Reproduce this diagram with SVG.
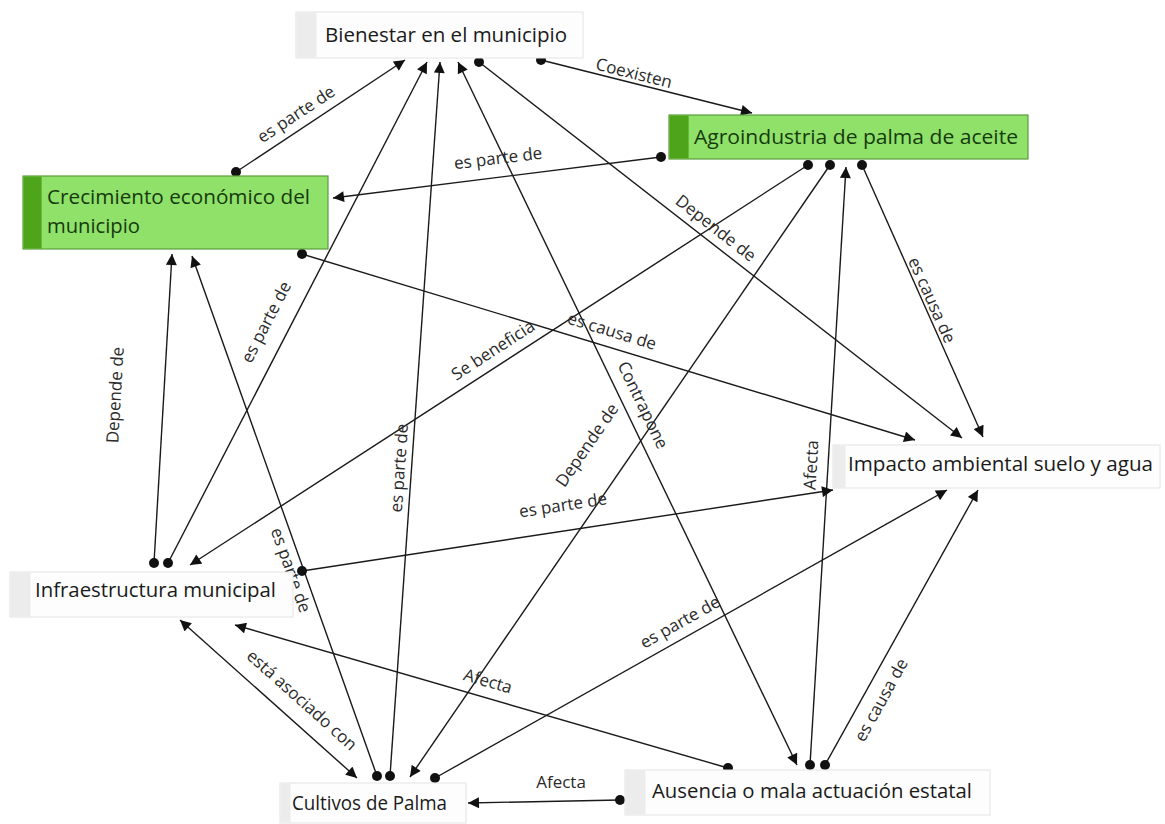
<svg xmlns="http://www.w3.org/2000/svg" width="1165" height="824" viewBox="0 0 1165 824">
<style>
.bg{fill:#ffffff}
.pbox{fill:#fdfdfd;stroke:#e4e4e4;stroke-width:1}
.pstripe{fill:#ececec}
.gbox{fill:#8fe16a;stroke:#5d9c3c;stroke-width:1.2}
.gstripe{fill:#4ea51b}
.ntext{font-family:"Open Sans","Noto Sans","Liberation Sans",sans-serif;font-size:20px;fill:#1a1a1a}
.gtext{font-family:"Open Sans","Noto Sans","Liberation Sans",sans-serif;font-size:20px;fill:#163a0c}
.edge{stroke:#1a1a1a;stroke-width:1.4;fill:none;marker-start:url(#dot);marker-end:url(#arr)}
.bi{marker-start:url(#arr)}
.lbl{font-family:"Open Sans","Noto Sans","Liberation Sans",sans-serif;font-size:17px;fill:#2a2a2a;text-anchor:middle}
</style>
<defs>
<marker id="arr" viewBox="0 0 10 10" refX="10" refY="5" markerWidth="12" markerHeight="11" markerUnits="userSpaceOnUse" orient="auto-start-reverse"><path d="M0,0 L10,5 L0,10 z" fill="#111"/></marker>
<marker id="dot" viewBox="0 0 10 10" refX="5" refY="5" markerWidth="10" markerHeight="10" markerUnits="userSpaceOnUse"><circle cx="5" cy="5" r="5" fill="#111"/></marker>
</defs>
<rect class="bg" x="0" y="0" width="1165" height="824"/>

<g id="connectors">
<line class="edge" x1="236" y1="172" x2="405" y2="60"/>
<line class="edge" x1="541" y1="60" x2="752" y2="113"/>
<line class="edge" x1="661" y1="157" x2="333" y2="198"/>
<line class="edge" x1="479" y1="62" x2="962" y2="438"/>
<line class="edge" x1="862" y1="165" x2="983" y2="437"/>
<line class="edge" x1="808" y1="165" x2="190" y2="565"/>
<line class="edge" x1="302" y1="254" x2="915" y2="440"/>
<line class="edge bi" x1="458" y1="62" x2="797" y2="765"/>
<line class="edge" x1="830" y1="165" x2="410" y2="777"/>
<line class="edge" x1="168" y1="563" x2="427" y2="62"/>
<line class="edge" x1="390" y1="776" x2="440" y2="62"/>
<line class="edge" x1="154" y1="563" x2="172" y2="254"/>
<line class="edge" x1="377" y1="776" x2="192" y2="256"/>
<line class="edge" x1="810" y1="765" x2="846" y2="167"/>
<line class="edge" x1="302" y1="571" x2="833" y2="490"/>
<line class="edge" x1="435" y1="778" x2="947" y2="490"/>
<line class="edge" x1="825" y1="765" x2="978" y2="490"/>
<line class="edge bi" x1="180" y1="620" x2="357" y2="778"/>
<line class="edge" x1="728" y1="768" x2="235" y2="625"/>
<line class="edge" x1="620" y1="800" x2="468" y2="803"/>

<text class="lbl" transform="translate(296,114) rotate(-33.5)" dy="0.35em">es parte de</text>
<text class="lbl" transform="translate(634,73) rotate(14)" dy="0.35em">Coexisten</text>
<text class="lbl" transform="translate(498,158) rotate(-7)" dy="0.35em">es parte de</text>
<text class="lbl" transform="translate(716,228) rotate(38)" dy="0.35em">Depende de</text>
<text class="lbl" transform="translate(932,300) rotate(66)" dy="0.35em">es causa de</text>
<text class="lbl" transform="translate(493,350) rotate(-33)" dy="0.35em">Se beneficia</text>
<text class="lbl" transform="translate(612,331) rotate(17)" dy="0.35em">es causa de</text>
<text class="lbl" transform="translate(643,405) rotate(64.3)" dy="0.35em">Contrapone</text>
<text class="lbl" transform="translate(587,445) rotate(-55.5)" dy="0.35em">Depende de</text>
<text class="lbl" transform="translate(266,322) rotate(-62.7)" dy="0.35em">es parte de</text>
<text class="lbl" transform="translate(399,468) rotate(-86)" dy="0.35em">es parte de</text>
<text class="lbl" transform="translate(115,395) rotate(-86.7)" dy="0.35em">Depende de</text>
<text class="lbl" transform="translate(291,570) rotate(70.4)" dy="0.35em">es parte de</text>
<text class="lbl" transform="translate(811,465) rotate(-86.6)" dy="0.35em">Afecta</text>
<text class="lbl" transform="translate(563,505) rotate(-8.7)" dy="0.35em">es parte de</text>
<text class="lbl" transform="translate(680,622) rotate(-29.4)" dy="0.35em">es parte de</text>
<text class="lbl" transform="translate(881,700) rotate(-61)" dy="0.35em">es causa de</text>
<text class="lbl" transform="translate(302,700) rotate(41.8)" dy="0.35em">está asociado con</text>
<text class="lbl" transform="translate(488,681) rotate(16.2)" dy="0.35em">Afecta</text>
<text class="lbl" transform="translate(561,782)" dy="0.35em">Afecta</text>
</g>

<g id="node-bienestar">
<rect class="pbox" x="296" y="12" width="287" height="46"/>
<rect class="pstripe" x="296.5" y="12.5" width="20" height="45"/>
<text class="ntext" x="325" y="42" textLength="242" lengthAdjust="spacingAndGlyphs">Bienestar en el municipio</text>
</g>

<g id="node-agroindustria">
<rect class="gbox" x="669" y="115" width="359" height="44"/>
<rect class="gstripe" x="669.6" y="115.6" width="19" height="42.8"/>
<text class="gtext" x="694" y="144" textLength="324" lengthAdjust="spacingAndGlyphs">Agroindustria de palma de aceite</text>
</g>

<g id="node-crecimiento">
<rect class="gbox" x="23" y="176" width="305" height="73"/>
<rect class="gstripe" x="23.6" y="176.6" width="18" height="71.8"/>
<text class="gtext" x="47" y="204" textLength="263" lengthAdjust="spacingAndGlyphs">Crecimiento económico del</text>
<text class="gtext" x="47" y="233" textLength="93" lengthAdjust="spacingAndGlyphs">municipio</text>
</g>

<g id="node-impacto">
<rect class="pbox" x="833" y="445" width="327" height="43"/>
<rect class="pstripe" x="833.5" y="445.5" width="12" height="42"/>
<text class="ntext" x="848" y="471" textLength="305" lengthAdjust="spacingAndGlyphs">Impacto ambiental suelo y agua</text>
</g>

<g id="node-infraestructura">
<rect class="pbox" x="10" y="572" width="283" height="45"/>
<rect class="pstripe" x="10.5" y="572.5" width="20" height="44"/>
<text class="ntext" x="35" y="597" textLength="241" lengthAdjust="spacingAndGlyphs">Infraestructura municipal</text>
</g>

<g id="node-cultivos">
<rect class="pbox" x="280" y="783" width="186" height="40"/>
<rect class="pstripe" x="280.5" y="783.5" width="10" height="39"/>
<text class="ntext" x="292" y="810" textLength="155" lengthAdjust="spacingAndGlyphs">Cultivos de Palma</text>
</g>

<g id="node-ausencia">
<rect class="pbox" x="625" y="770" width="365" height="45"/>
<rect class="pstripe" x="625.5" y="770.5" width="20" height="44"/>
<text class="ntext" x="652" y="798" textLength="320" lengthAdjust="spacingAndGlyphs">Ausencia o mala actuación estatal</text>
</g>
</svg>
